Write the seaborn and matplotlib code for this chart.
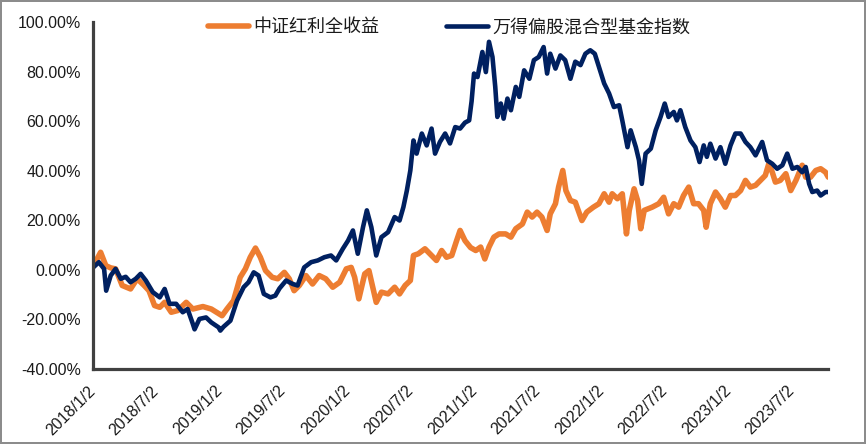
import matplotlib
matplotlib.use("Agg")
import matplotlib.pyplot as plt
import matplotlib.transforms as mtransforms
from matplotlib.ticker import FuncFormatter
import seaborn as sns
import pandas as pd

# ---------------- data (cumulative return, %) ----------------
series_names = ["中证红利全收益", "万得偏股混合型基金指数"]

dividend_dates = [
    "2018-01-02", "2018-01-23", "2018-02-07", "2018-02-21", "2018-03-07", "2018-03-26",
    "2018-04-19", "2018-05-08", "2018-05-28", "2018-06-11", "2018-06-27", "2018-07-12",
    "2018-07-26", "2018-08-14", "2018-09-02", "2018-09-26", "2018-10-15", "2018-11-13",
    "2018-12-07", "2019-01-07", "2019-01-21", "2019-02-09", "2019-02-28", "2019-03-15",
    "2019-03-29", "2019-04-13", "2019-04-27", "2019-05-12", "2019-05-31", "2019-06-16",
    "2019-07-05", "2019-07-19", "2019-08-02", "2019-08-17", "2019-09-05", "2019-09-24",
    "2019-10-13", "2019-11-01", "2019-11-21", "2019-12-11", "2019-12-30", "2020-01-13",
    "2020-01-23", "2020-02-04", "2020-02-21", "2020-03-04", "2020-03-15", "2020-03-25",
    "2020-04-09", "2020-04-28", "2020-05-17", "2020-05-31", "2020-06-16", "2020-07-01",
    "2020-07-10", "2020-07-24", "2020-08-12", "2020-08-31", "2020-09-14", "2020-09-29",
    "2020-10-13", "2020-10-28", "2020-11-11", "2020-11-21", "2020-12-05", "2020-12-21",
    "2021-01-05", "2021-01-19", "2021-01-31", "2021-02-12", "2021-02-26", "2021-03-13",
    "2021-04-01", "2021-04-16", "2021-04-30", "2021-05-19", "2021-06-02", "2021-06-16",
    "2021-06-30", "2021-07-14", "2021-07-29", "2021-08-07", "2021-08-22", "2021-08-31",
    "2021-09-12", "2021-09-21", "2021-10-04", "2021-10-18", "2021-11-06", "2021-11-20",
    "2021-12-09", "2021-12-25", "2022-01-09", "2022-01-23", "2022-02-01", "2022-02-16",
    "2022-03-02", "2022-03-14", "2022-03-22", "2022-04-05", "2022-04-15", "2022-04-24",
    "2022-05-04", "2022-05-27", "2022-06-15", "2022-06-29", "2022-07-13", "2022-07-28",
    "2022-08-11", "2022-08-25", "2022-09-09", "2022-09-23", "2022-10-07", "2022-10-22",
    "2022-10-29", "2022-11-10", "2022-11-25", "2022-12-09", "2022-12-23", "2023-01-07",
    "2023-01-21", "2023-02-05", "2023-02-19", "2023-03-05", "2023-03-20", "2023-04-03",
    "2023-04-17", "2023-04-27", "2023-05-07", "2023-05-16", "2023-05-30", "2023-06-15",
    "2023-06-29", "2023-07-14", "2023-08-01", "2023-08-11", "2023-08-25", "2023-09-09",
    "2023-09-23", "2023-10-07", "2023-10-15",
]
dividend_values = [
    1.5, 7.1, 1.7, 0.8, 0.4, -6.3,
    -7.7, -3.6, -6.3, -8.4, -14.4, -15.1,
    -13.1, -17.1, -16.4, -13.1, -15.8, -14.8,
    -15.8, -18.5, -15.8, -12.4, -3.0, 0.4,
    5.1, 8.8, 5.1, -0.3, -3.0, -3.6,
    -1.0, -3.6, -8.4, -6.3, -2.3, -5.7,
    -2.3, -3.6, -7.0, -5.0, 0.4, 1.0,
    -3.0, -11.7, -1.6, -0.3, -7.0, -13.1,
    -9.0, -9.7, -7.0, -9.7, -6.3, -4.3,
    5.8, 6.5, 8.5, 5.8, 3.8, 7.8,
    5.1, 5.8, 11.8, 15.9, 11.8, 9.0,
    7.8, 9.2, 4.4, 9.2, 13.2, 14.5,
    14.5, 13.2, 16.6, 18.5, 23.3, 21.3,
    23.3, 21.3, 15.9, 22.6, 26.7, 33.4,
    40.1, 32.0, 28.0, 27.3, 19.9, 23.3,
    25.3, 26.7, 30.7, 27.3, 30.7, 28.7,
    30.7, 14.5, 24.0, 32.7, 28.0, 16.6,
    24.0, 25.3, 26.7, 29.3, 22.6, 26.7,
    25.3, 30.0, 33.4, 26.7, 26.7, 24.0,
    17.2, 26.7, 31.4, 28.7, 25.3, 30.0,
    30.0, 32.0, 36.1, 33.4, 34.1, 36.1,
    38.1, 42.8, 39.4, 35.4, 36.1, 38.8,
    32.0, 36.1, 42.2, 37.4, 37.4, 40.1,
    40.8, 39.4, 37.4,
]

fund_dates = [
    "2018-01-02", "2018-01-18", "2018-02-02", "2018-02-08", "2018-02-21", "2018-03-07",
    "2018-03-22", "2018-04-05", "2018-04-19", "2018-05-04", "2018-05-18", "2018-06-02",
    "2018-06-22", "2018-07-12", "2018-07-26", "2018-08-09", "2018-08-28", "2018-09-16",
    "2018-09-30", "2018-10-15", "2018-10-20", "2018-11-03", "2018-11-22", "2018-12-07",
    "2018-12-28", "2019-01-02", "2019-01-11", "2019-01-31", "2019-02-19", "2019-03-10",
    "2019-03-24", "2019-04-08", "2019-04-22", "2019-05-07", "2019-05-26", "2019-06-09",
    "2019-06-21", "2019-07-10", "2019-07-29", "2019-08-12", "2019-08-31", "2019-09-20",
    "2019-10-09", "2019-10-28", "2019-11-16", "2019-12-01", "2019-12-20", "2020-01-04",
    "2020-01-18", "2020-02-01", "2020-02-16", "2020-02-27", "2020-03-11", "2020-03-25",
    "2020-04-09", "2020-04-28", "2020-05-17", "2020-05-31", "2020-06-11", "2020-06-21",
    "2020-07-01", "2020-07-10", "2020-07-19", "2020-08-03", "2020-08-17", "2020-08-31",
    "2020-09-10", "2020-09-24", "2020-10-09", "2020-10-23", "2020-11-07", "2020-11-21",
    "2020-12-05", "2020-12-17", "2020-12-24", "2020-12-31", "2021-01-10", "2021-01-24",
    "2021-02-03", "2021-02-12", "2021-02-22", "2021-03-02", "2021-03-08", "2021-03-18",
    "2021-03-26", "2021-04-06", "2021-04-16", "2021-04-30", "2021-05-10", "2021-05-24",
    "2021-06-08", "2021-06-21", "2021-07-05", "2021-07-19", "2021-07-29", "2021-08-07",
    "2021-08-22", "2021-09-05", "2021-09-19", "2021-10-04", "2021-10-18", "2021-11-02",
    "2021-11-16", "2021-11-30", "2021-12-13", "2021-12-25", "2022-01-09", "2022-01-23",
    "2022-02-06", "2022-02-21", "2022-03-02", "2022-03-17", "2022-03-26", "2022-04-10",
    "2022-04-19", "2022-04-27", "2022-05-08", "2022-05-23", "2022-06-06", "2022-06-20",
    "2022-07-02", "2022-07-13", "2022-07-28", "2022-08-06", "2022-08-16", "2022-08-30",
    "2022-09-14", "2022-09-28", "2022-10-10", "2022-10-22", "2022-10-31", "2022-11-10",
    "2022-11-25", "2022-12-09", "2022-12-23", "2023-01-07", "2023-01-21", "2023-02-05",
    "2023-02-19", "2023-03-05", "2023-03-20", "2023-04-08", "2023-04-22", "2023-05-07",
    "2023-05-21", "2023-06-05", "2023-06-19", "2023-07-04", "2023-07-18", "2023-08-01",
    "2023-08-11", "2023-08-21", "2023-08-30", "2023-09-13", "2023-09-23", "2023-10-07",
    "2023-10-15",
]
fund_values = [
    1.0, 3.1, 0.4, -8.4, -2.3, 0.4,
    -3.6, -2.8, -5.0, -3.6, -1.6, -4.3,
    -9.0, -11.1, -7.7, -13.7, -13.7, -17.1,
    -15.8, -21.8, -24.0, -19.8, -19.2, -21.2,
    -23.2, -24.5, -23.0, -20.5, -12.4, -7.0,
    -5.0, -1.0, -2.3, -9.7, -11.1, -10.4,
    -7.5, -4.3, -5.7, -6.3, 1.0, 3.1,
    3.8, 5.1, 5.8, 3.8, 8.5, 11.8,
    15.9, 6.5, 17.2, 24.0, 17.2, 5.8,
    13.2, 15.2, 21.3, 19.9, 25.3, 32.0,
    40.1, 52.2, 46.9, 55.0, 50.2, 57.0,
    46.9, 51.6, 55.0, 51.0, 57.6, 57.0,
    59.4, 60.3, 68.0, 79.2, 77.8, 87.9,
    79.8, 92.0, 85.9, 73.8, 61.7, 67.1,
    61.0, 69.1, 64.4, 73.8, 69.8, 80.5,
    77.1, 84.6, 85.9, 89.9, 79.2, 87.2,
    81.2, 86.5, 84.6, 77.1, 84.0, 82.6,
    87.2, 88.6, 87.2, 81.9, 75.2, 71.2,
    65.7, 66.4, 60.3, 49.5, 56.3, 49.5,
    44.2, 34.7, 46.9, 48.9, 56.3, 61.7,
    67.1, 61.7, 63.7, 60.3, 64.4, 57.6,
    52.2, 49.5, 43.5, 50.2, 45.6, 50.9,
    44.9, 49.5, 42.8, 50.2, 55.0, 55.0,
    51.6, 49.5, 46.2, 51.6, 44.2, 42.8,
    40.8, 42.2, 46.9, 40.8, 41.5, 39.4,
    41.5, 34.7, 31.4, 32.0, 30.0, 31.4,
    31.4,
]

x_tick_dates = ["2018-01-02", "2018-07-02", "2019-01-02", "2019-07-02", "2020-01-02",
                "2020-07-02", "2021-01-02", "2021-07-02", "2022-01-02", "2022-07-02",
                "2023-01-02", "2023-07-02"]
x_tick_labels = ["2018/1/2", "2018/7/2", "2019/1/2", "2019/7/2", "2020/1/2", "2020/7/2",
                 "2021/1/2", "2021/7/2", "2022/1/2", "2022/7/2", "2023/1/2", "2023/7/2"]
y_ticks = [-40, -20, 0, 20, 40, 60, 80, 100]

colors = ["#ED7D31", "#002060"]

# ---------------- build tables ----------------
df_div = pd.DataFrame({"date": pd.to_datetime(dividend_dates), "value": dividend_values,
                       "series": series_names[0]})
df_fund = pd.DataFrame({"date": pd.to_datetime(fund_dates), "value": fund_values,
                        "series": series_names[1]})

# ---------------- style ----------------
sns.set_style("white")
plt.rcParams["font.family"] = ["Liberation Sans", "Noto Sans CJK SC", "DejaVu Sans"]
plt.rcParams["axes.unicode_minus"] = False

fig = plt.figure(figsize=(8.66, 4.44), dpi=100, facecolor="white",
                 edgecolor="#8c8c8c", linewidth=1.5)
ax = fig.add_axes([93.3 / 866, 1 - 369 / 444, (828.3 - 93.3) / 866, (369 - 22) / 444])

sns.lineplot(data=df_div, x="date", y="value", color=colors[0], linewidth=4.0,
             ax=ax, legend=False, label=series_names[0])
sns.lineplot(data=df_fund, x="date", y="value", color=colors[1], linewidth=3.3,
             ax=ax, legend=False, label=series_names[1])
for ln in ax.get_lines():
    ln.set_solid_joinstyle("round")
    ln.set_solid_capstyle("round")

ax.set_xlim(pd.Timestamp("2018-01-02"), pd.Timestamp("2023-10-15"))
ax.set_ylim(-40, 100)

ax.set_xticks(pd.to_datetime(x_tick_dates))
ax.set_xticklabels(x_tick_labels, rotation=45, ha="right", va="center",
                   rotation_mode="anchor")
offset = mtransforms.ScaledTranslation(3 / 100, 0, fig.dpi_scale_trans)
for lbl in ax.get_xticklabels():
    lbl.set_transform(lbl.get_transform() + offset)

ax.set_yticks(y_ticks)
ax.yaxis.set_major_formatter(FuncFormatter(lambda v, p: f"{v:.2f}%"))

ax.set_xlabel("")
ax.set_ylabel("")

for side in ["top", "right"]:
    ax.spines[side].set_visible(False)
for side in ["left", "bottom"]:
    ax.spines[side].set_color("#404040")
    ax.spines[side].set_linewidth(2.3)

ax.tick_params(axis="both", direction="out", length=3, width=2.3, color="#404040",
               labelsize=11.5, labelcolor="#1a1a1a")
ax.tick_params(axis="y", pad=6)
ax.tick_params(axis="x", pad=11)
ax.grid(False)

handles = ax.get_lines()[:2]
fig.legend(handles, series_names, loc="center", bbox_to_anchor=(449 / 866, 1 - 27.7 / 444),
           ncol=2, frameon=False, fontsize=13, handlelength=2.3, handletextpad=0.25,
           columnspacing=3.7, labelcolor="#1a1a1a")
for lh in fig.legends[0].get_lines():
    lh.set_solid_capstyle("round")

fig.savefig("out.png", dpi=100)
